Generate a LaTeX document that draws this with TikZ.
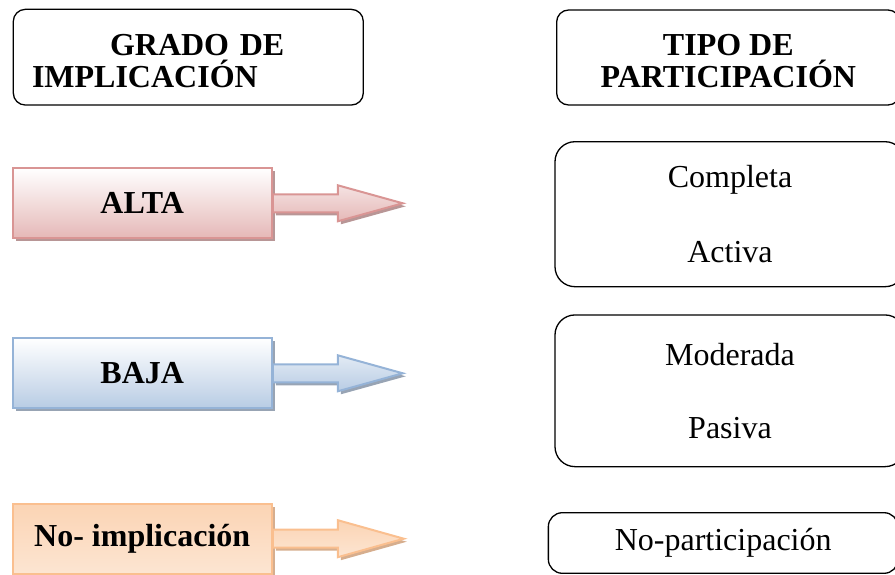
\documentclass[tikz,border=0pt]{standalone}
\usepackage{fontspec}
\setmainfont{Liberation Serif}
\usetikzlibrary{calc, positioning, shadows}
\definecolor{altab}{HTML}{D99594}
\definecolor{altaf}{HTML}{E5B8B7}
\definecolor{altas}{HTML}{B89696}
\definecolor{bajab}{HTML}{95B3D7}
\definecolor{bajaf}{HTML}{B8CCE4}
\definecolor{bajas}{HTML}{98A4B4}
\definecolor{nob}{HTML}{FABF8F}
\definecolor{nof}{HTML}{FBD4B4}
\definecolor{nos}{HTML}{D6AE8E}

\begin{document}
\begin{tikzpicture}[x=1pt, y=1pt]
    \tikzstyle{titulo}=[draw, line width=1.3pt, rounded corners=12pt, font=\fontsize{32}{32}\selectfont\bfseries]
    \tikzstyle{tipo}=[draw, line width=1.3pt, rounded corners=20pt, align=center, font=\fontsize{32}{37.5}\selectfont]
    \tikzstyle{grado}=[line width=2.2pt, minimum width=259pt, minimum height=70pt, font=\fontsize{32}{32}\selectfont\bfseries]
    \tikzstyle{flecha}=[line width=2pt]
    \clip (0,0) rectangle (895,-575);

    % encabezados
    \node[titulo, minimum width=350pt, minimum height=95.7pt, text width=312.6pt, inner xsep=18.7pt, align=left] (grado) at (188.3,-57.2) {\rule{0pt}{28pt}\hspace*{78pt}GRADO DE\\IMPLICACIÓN};
    \node[titulo, minimum width=343.3pt, minimum height=95pt, align=center] (tipo) at (728.3,-57.5) {\rule{0pt}{28pt}TIPO DE\\PARTICIPACIÓN};

    % grados
    \node[grado, draw=altab, top color=white, bottom color=altaf, drop shadow={shadow xshift=3pt, shadow yshift=-3pt, fill=altas, opacity=1}] (alta) at (142.2,-203.3) {ALTA};
    \draw[flecha, draw=altab, top color=altaf!40, bottom color=altaf, drop shadow={shadow xshift=3pt, shadow yshift=-3pt, fill=altas, opacity=1}]
        ($(alta.east)+(0,9)$) -- ++(65,0) -- ++(0,9) -- ++(65,-18) -- ++(-65,-18) -- ++(0,9) -- ++(-65,0) -- cycle;

    \node[grado, draw=bajab, top color=white, bottom color=bajaf, drop shadow={shadow xshift=3pt, shadow yshift=-3pt, fill=bajas, opacity=1}] (baja) at (142.2,-373.3) {BAJA};
    \draw[flecha, draw=bajab, top color=bajaf!40, bottom color=bajaf, drop shadow={shadow xshift=3pt, shadow yshift=-3pt, fill=bajas, opacity=1}]
        ($(baja.east)+(0,9)$) -- ++(65,0) -- ++(0,9) -- ++(65,-18) -- ++(-65,-18) -- ++(0,9) -- ++(-65,0) -- cycle;

    \node[grado, draw=nob, top color=nof, bottom color=nof!60, drop shadow={shadow xshift=3pt, shadow yshift=-3pt, fill=nos, opacity=1}] (noimp) at (142.2,-538.7) {No- implicación};
    \draw[flecha, draw=nob, top color=nof, bottom color=nof!60, drop shadow={shadow xshift=3pt, shadow yshift=-3pt, fill=nos, opacity=1}]
        ($(noimp.east)+(0,9)$) -- ++(65,0) -- ++(0,9.5) -- ++(66,-18.5) -- ++(-66,-18.5) -- ++(0,9.5) -- ++(-65,0) -- cycle;

    % tipos
    \node[tipo, minimum width=350pt, minimum height=145pt] (completa) at (730,-214.2) {Completa\\[37.5pt]Activa};
    \node[tipo, minimum width=350pt, minimum height=151.7pt] (moderada) at (730,-390.8) {Moderada\\[35.8pt]Pasiva};
    \node[tipo, rounded corners=14pt, minimum width=349.7pt, minimum height=60.6pt] (nopart) at (723.2,-543) {No-participación};
\end{tikzpicture}
\end{document}
